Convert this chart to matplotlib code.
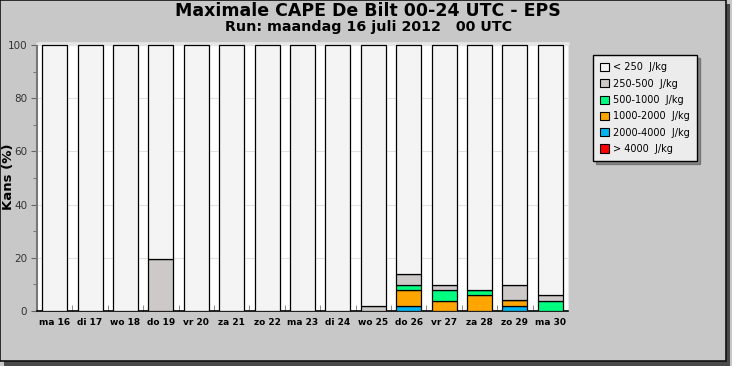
import matplotlib
matplotlib.use("Agg")
import matplotlib.pyplot as plt
from matplotlib.patches import Patch, Rectangle
import numpy as np

# forecast days and chance (%) per CAPE class
days = ["ma 16", "di 17", "wo 18", "do 19", "vr 20", "za 21", "zo 22", "ma 23",
        "di 24", "wo 25", "do 26", "vr 27", "za 28", "zo 29", "ma 30"]
gt4000 = [0, 0, 0, 0, 0, 0, 0, 0, 0, 0, 0, 0, 0, 0, 0]
c2000_4000 = [0, 0, 0, 0, 0, 0, 0, 0, 0, 0, 2.0, 0, 0, 2.0, 0]
c1000_2000 = [0, 0, 0, 0, 0, 0, 0, 0, 0, 0, 5.9, 3.9, 5.9, 2.0, 0]
c500_1000 = [0, 0, 0, 0, 0, 0, 0, 0, 0, 0, 2.0, 3.9, 2.0, 0, 3.9]
c250_500 = [0, 0, 0, 19.6, 0, 0, 0, 0, 0, 2.0, 3.9, 2.0, 0, 5.9, 2.0]

classes = ["> 4000  J/kg", "2000-4000  J/kg", "1000-2000  J/kg",
           "500-1000  J/kg", "250-500  J/kg", "< 250  J/kg"]
colors = ["#ff0000", "#00b4f0", "#ffa500", "#00ff80", "#cdc9c9", "#f4f4f4"]

series = [gt4000, c2000_4000, c1000_2000, c500_1000, c250_500]
lt250 = list(100 - np.sum(series, axis=0))
series.append(lt250)

bg = "#c8c8c8"
fig = plt.figure(figsize=(7.32, 3.66), dpi=100, facecolor=bg)

# frame with shadow
fig.patches.append(Rectangle((4 / 732, 0), 726 / 732, 362 / 366, transform=fig.transFigure,
                             facecolor="#4a4a4a", edgecolor="none", zorder=-2))
fig.patches.append(Rectangle((0, 5 / 366), 726 / 732, 361 / 366, transform=fig.transFigure,
                             facecolor=bg, edgecolor="#111111", lw=1.2, zorder=-1))

ax = fig.add_axes([37 / 732, 55 / 366, 531 / 732, 268 / 366])
ax.set_facecolor("white")

x = np.arange(len(days))
bottom = np.zeros(len(days))
for vals, col in zip(series, colors):
    ax.bar(x, vals, 0.71, bottom=bottom, color=col, edgecolor="black", lw=0.9, zorder=3)
    bottom += np.array(vals)

ax.set_xlim(-0.5, 14.5)
ax.set_ylim(0, 100.8)
ax.set_yticks(range(0, 101, 20))
ax.set_yticks(range(10, 100, 20), minor=True)
ax.yaxis.grid(True, color="#e2e2e2", lw=0.8, zorder=0)
ax.tick_params(axis="y", which="both", direction="out", color="#666666", length=4,
               labelsize=7.5, labelcolor="#333333", pad=3)
ax.tick_params(axis="y", which="minor", length=3)

ax.set_xticks(x)
ax.set_xticklabels(days, fontsize=6.5, fontweight="bold")
ax.set_xticks(x[:-1] + 0.5, minor=True)
ax.tick_params(axis="x", which="major", length=0, pad=5)
ax.tick_params(axis="x", which="minor", direction="in", length=4, color="#777777")

ax.spines["left"].set_color("#777777")
ax.spines["left"].set_linewidth(1.5)
ax.spines["bottom"].set_color("black")
ax.spines["bottom"].set_linewidth(1.2)
ax.spines["top"].set_color("#e6e6e6")
ax.spines["top"].set_linewidth(2)
ax.spines["right"].set_color("#e6e6e6")

ax.set_ylabel("Kans (%)", fontsize=9.5, fontweight="bold")
ax.yaxis.set_label_coords(-0.041, 0.5)

fig.text(0.503, 0.970, "Maximale CAPE De Bilt 00-24 UTC - EPS", ha="center", va="center",
         fontsize=12.5, fontweight="bold")
fig.text(0.503, 0.926, "Run: maandag 16 juli 2012   00 UTC", ha="center", va="center",
         fontsize=10.3, fontweight="bold")

handles = [Patch(facecolor=c, edgecolor="black", lw=0.8) for c in colors[::-1]]
leg = fig.legend(handles, classes[::-1], loc="upper left",
                 bbox_to_anchor=(593 / 732, 1 - 55 / 366), borderaxespad=0,
                 fontsize=7, handlelength=0.9, handleheight=0.9, handletextpad=0.4,
                 labelspacing=0.65, borderpad=0.75, fancybox=False, shadow=True,
                 facecolor="#ececec", edgecolor="black", framealpha=1)
leg.get_frame().set_linewidth(1)

fig.savefig("out.png", dpi=100, facecolor=fig.get_facecolor())
